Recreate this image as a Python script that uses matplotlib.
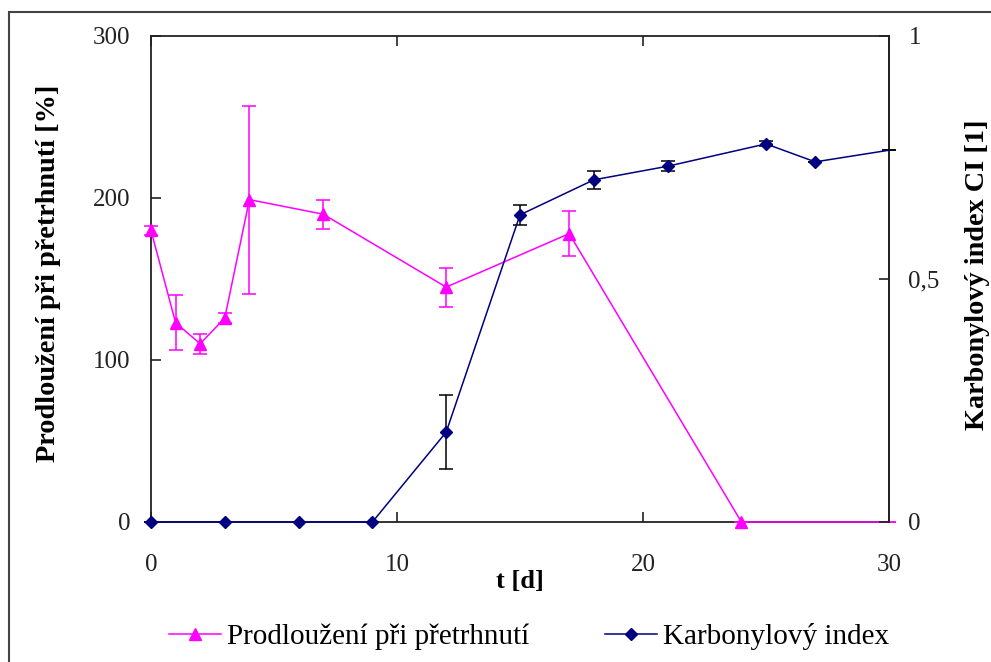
import matplotlib.pyplot as plt
from matplotlib.patches import Rectangle
from matplotlib.lines import Line2D

plt.rcParams['font.family'] = ['Liberation Serif', 'DejaVu Serif']

# elongation at break [%]
t_prod = [0, 1, 2, 3, 4, 7, 12, 17, 24, 30]
prod = [180, 123, 110, 126, 199, 190, 145, 178, 0, 0]
prod_err = [3, 17, 6, 3, 58, 9, 12, 14, 0, 0]

# carbonyl index [1]
t_ci = [0, 3, 6, 9, 12, 15, 18, 21, 25, 27, 30]
ci = [0, 0, 0, 0, 0.185, 0.632, 0.704, 0.732, 0.778, 0.741, 0.765]
ci_err = [0, 0, 0, 0, 0.076, 0.02, 0.019, 0.01, 0.005, 0, 0]

xticks = [0, 10, 20, 30]
yticks_left = [0, 100, 200, 300]
yticks_right = [0, 0.5, 1]
yticklabels_right = ['0', '0,5', '1']

magenta = '#FF00FF'
navy = '#000080'

fig = plt.figure(figsize=(9.91, 6.62), dpi=100)
ax = fig.add_axes([151/991, 1-522/662, (889-151)/991, (522-36)/662])
ax2 = ax.twinx()

fig.patches.append(Rectangle((9/991, -0.1), 1.2, 1.1 - 12/662, transform=fig.transFigure,
                             fill=False, edgecolor='#444444', linewidth=1.5))

ax.errorbar(t_prod, prod, yerr=prod_err, color=magenta, ecolor=magenta, marker='^',
            markersize=9, linewidth=1.1, elinewidth=1.1, capsize=5, capthick=1.1,
            markevery=list(range(len(t_prod) - 1)), clip_on=False, zorder=3)
ax2.errorbar(t_ci, ci, yerr=ci_err, color=navy, ecolor='black', marker='D',
             markersize=6.5, linewidth=1.1, elinewidth=1.1, capsize=5, capthick=1.1,
             markevery=list(range(len(t_ci) - 1)), clip_on=False, zorder=3)

ax.set_xlim(0, 30)
ax.set_ylim(0, 300)
ax2.set_ylim(0, 1)
ax.set_xticks(xticks)
ax.set_yticks(yticks_left)
ax2.set_yticks(yticks_right)
ax2.set_yticklabels(yticklabels_right)

for s in ax.spines.values():
    s.set_linewidth(1.3)
    s.set_color('#222222')
for side in ['bottom', 'left', 'top']:
    ax2.spines[side].set_visible(False)
ax2.spines['right'].set_linewidth(1.3)
ax2.spines['right'].set_color('#222222')

ax.tick_params(axis='x', direction='in', length=7, width=1.2, labelsize=18, pad=23,
               top=True, colors='#222222')
ax.tick_params(axis='y', direction='in', length=7, width=1.2, labelsize=18, pad=15,
               colors='#222222')
ax2.tick_params(axis='y', direction='in', length=7, width=1.2, labelsize=18, pad=14,
                colors='#222222')

ax.set_xlabel('t [d]', fontsize=19, fontweight='bold', labelpad=-4)
fig.text(49/991, 1-273/662, 'Prodloužení při přetrhnutí [%]', rotation=90, fontsize=20.3,
         fontweight='bold', ha='center', va='center')
fig.text(977/991, 1-275/662, 'Karbonylový index CI [1]', rotation=90, fontsize=20.3,
         fontweight='bold', ha='center', va='center')

handles = [Line2D([], [], color=magenta, marker='^', markersize=9, linewidth=1.1),
           Line2D([], [], color=navy, marker='D', markersize=6.5, linewidth=1.1)]
labels = ['Prodloužení při přetrhnutí', 'Karbonylový index']
fig.legend(handles, labels, loc='center', bbox_to_anchor=(529/991, 1-637/662), ncol=2,
           frameon=False, fontsize=21, handlelength=1.8, columnspacing=2.6, handletextpad=0.2)

fig.savefig('out.png', dpi=100)
